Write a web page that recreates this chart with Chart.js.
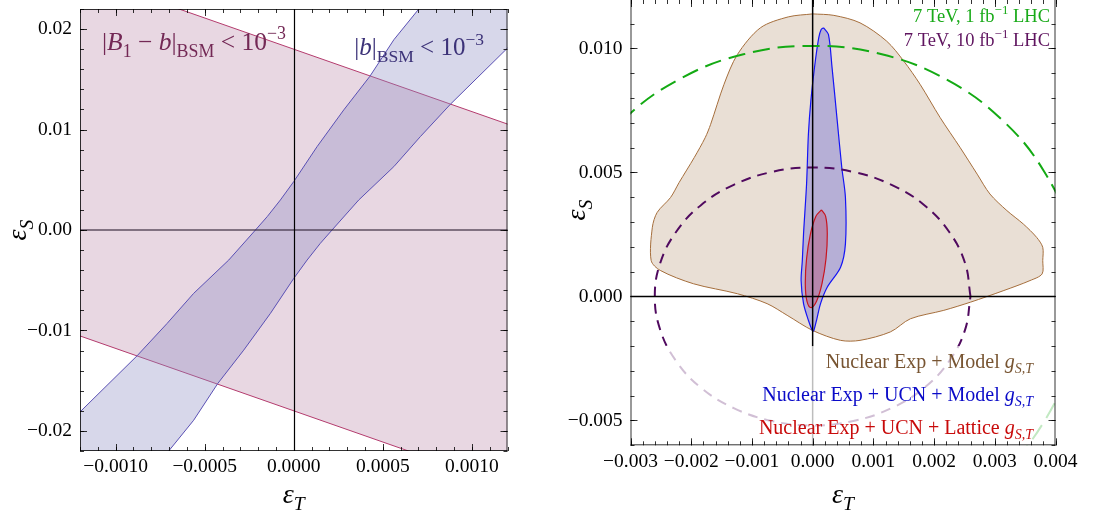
<!DOCTYPE html>
<html><head><meta charset="utf-8">
<script src="https://cdn.jsdelivr.net/npm/chart.js@4/dist/chart.umd.min.js"></script>
<style>
html,body{margin:0;padding:0;background:#fff;width:1109px;height:518px;overflow:hidden}
#c1{position:absolute;left:0;top:0}
#c2{position:absolute;left:545px;top:0}
</style></head><body>
<canvas id="c1" width="545" height="518"></canvas>
<canvas id="c2" width="564" height="518"></canvas>
<script>
// ---------------- LEFT PANEL DATA ----------------
const leftXTicks = [-0.001, -0.0005, 0, 0.0005, 0.001];
const leftXTickLabels = ["\u22120.0010", "\u22120.0005", "0.0000", "0.0005", "0.0010"];
const leftYTicks = [-0.02, -0.01, 0, 0.01, 0.02];
const leftYTickLabels = ["\u22120.02", "\u22120.01", "0.00", "0.01", "0.02"];
// |B1 - b| band: upper boundary line then lower boundary line
const b1BandUpper = [[-0.0016, 0.02794], [0.0016, 0.00806]];
const b1BandLower = [[0.0016, -0.02794], [-0.0016, -0.00806]];
// |b| band: curve A (upper-left edge) bottom->top, curve B (lower-right edge) top->bottom
const bBandA = [[-0.0016, -0.0251], [-0.0012, -0.01811], [-0.00088, -0.01253], [-0.000711, -0.0093],
  [-0.000562, -0.00631], [-0.000365, -0.00299], [-0.000215, 0], [-0.000149, 0.00133],
  [-0.000075, 0.00299], [0, 0.00482], [0.000131, 0.0083], [0.000281, 0.01196],
  [0.000427, 0.01529], [0.000562, 0.01894], [0.000702, 0.022], [0.00085, 0.0255]];
const bBandB = [[0.0016, 0.0251], [0.0012, 0.01811], [0.00088, 0.01253], [0.000711, 0.0093],
  [0.000562, 0.00631], [0.000365, 0.00299], [0.000215, 0], [0.000149, -0.00133],
  [0.000075, -0.00299], [0, -0.00482], [-0.000131, -0.0083], [-0.000281, -0.01196],
  [-0.000427, -0.01529], [-0.000562, -0.01894], [-0.000702, -0.022], [-0.00085, -0.0255]];

// ---------------- RIGHT PANEL DATA ----------------
const rightXTicks = [-0.003, -0.002, -0.001, 0, 0.001, 0.002, 0.003, 0.004];
const rightXTickLabels = ["\u22120.003", "\u22120.002", "\u22120.001", "0.000", "0.001", "0.002", "0.003", "0.004"];
const rightYTicks = [-0.005, 0, 0.005, 0.01];
const rightYTickLabels = ["\u22120.005", "0.000", "0.005", "0.010"];
const nuclearModel = [[0, 0.01139], [0.00035, 0.01133], [0.00078, 0.01103], [0.00122, 0.01029], [0.0015, 0.00949],
  [0.00177, 0.00855], [0.0021, 0.00721], [0.00243, 0.006], [0.00271, 0.00493], [0.00292, 0.00413],
  [0.0032, 0.00346], [0.00347, 0.00292], [0.00369, 0.00238], [0.00379, 0.00198], [0.00379, 0.00145],
  [0.00378, 0.00091], [0.00358, 0.00064], [0.00315, 0.00024], [0.0026, -0.00023], [0.00216, -0.00056],
  [0.00161, -0.0009], [0.00128, -0.00143], [0.00078, -0.00177], [0.00046, -0.00177], [0, -0.00137],
  [-0.00042, -0.00076], [-0.00075, -0.00029], [-0.00124, 0.00011], [-0.00196, 0.00051], [-0.00251, 0.00105],
  [-0.00266, 0.00145], [-0.00264, 0.00279], [-0.00256, 0.00339], [-0.00234, 0.00399], [-0.0022, 0.00459],
  [-0.00195, 0.0056], [-0.00177, 0.0064], [-0.00168, 0.00694], [-0.00146, 0.00855], [-0.00124, 0.00975],
  [-0.00086, 0.01083], [-0.0004, 0.01127], [0, 0.01139]];
const nuclearUCNModel = [[0.00018, 0.01083], [0.00026, 0.01056], [0.00032, 0.00922], [0.0004, 0.00721],
  [0.00048, 0.0052], [0.00054, 0.00399], [0.00054, 0.00212], [0.00046, 0.00118], [0.00024, 0.00037],
  [0.00013, -0.00029], [0.00007, -0.0009], [0.00002, -0.00137], [0, -0.0014], [-0.00007, -0.00096],
  [-0.00015, -0.00029], [-0.00019, 0.00064], [-0.00017, 0.00145], [-0.00015, 0.00252], [-0.0001, 0.00453],
  [-0.00007, 0.00654], [-0.00003, 0.00788], [0.00003, 0.00922], [0.0001, 0.01042], [0.00014, 0.01076],
  [0.00018, 0.01083]];
const nuclearUCNLattice = [[0.000145, 0.00349], [0.000214, 0.00323], [0.000241, 0.00251], [0.00022, 0.00152],
  [0.000156, 0.000535], [0.000066, -0.000186], [-0.000025, -0.00045], [-0.000094, -0.000186],
  [-0.000121, 0.000535], [-0.0001, 0.00152], [-0.000037, 0.00251], [0.000054, 0.00323], [0.000145, 0.00349]];
const lhc1fb = [[0.0044, 0], [0.00425, 0.00261], [0.00381, 0.00505], [0.00311, 0.00714], [0.0022, 0.00875],
  [0.00114, 0.00976], [0, 0.0101], [-0.00114, 0.00976], [-0.0022, 0.00875], [-0.00311, 0.00714],
  [-0.00381, 0.00505], [-0.00425, 0.00261], [-0.0044, 0], [-0.00425, -0.00261], [-0.00381, -0.00505],
  [-0.00311, -0.00714], [-0.0022, -0.00875], [-0.00114, -0.00976], [0, -0.0101], [0.00114, -0.00976],
  [0.0022, -0.00875], [0.00311, -0.00714], [0.00381, -0.00505], [0.00425, -0.00261], [0.0044, 0]];
const lhc10fb = [[0.0026, 0], [0.00251, 0.00135], [0.00225, 0.0026], [0.00184, 0.00368], [0.0013, 0.0045],
  [0.00067, 0.00502], [0, 0.0052], [-0.00067, 0.00502], [-0.0013, 0.0045], [-0.00184, 0.00368],
  [-0.00225, 0.0026], [-0.00251, 0.00135], [-0.0026, 0], [-0.00251, -0.00135], [-0.00225, -0.0026],
  [-0.00184, -0.00368], [-0.0013, -0.0045], [-0.00067, -0.00502], [0, -0.0052], [0.00067, -0.00502],
  [0.0013, -0.0045], [0.00184, -0.00368], [0.00225, -0.0026], [0.00251, -0.00135], [0.0026, 0]];
const legendShadeFrom = -0.002;

// ---------------- HELPERS ----------------
const SERIF = '"Liberation Serif", "Times New Roman", serif';
const pts = a => a.map(p => ({x: p[0], y: p[1]}));

function fontFor(kind, base) {
  const small = kind.indexOf('sub') >= 0 || kind.indexOf('sup') >= 0;
  const it = kind[0] === 'i' ? 'italic ' : '';
  return it + (small ? base * 0.7 : base) + 'px ' + SERIF;
}
function dyFor(kind, base) {
  if (kind.indexOf('sub') >= 0) return base * 0.26;
  if (kind.indexOf('sup') >= 0) return -base * 0.42;
  return 0;
}
function rich(ctx, parts, x, y, align, base, color) {
  ctx.save();
  ctx.fillStyle = color;
  ctx.textBaseline = 'alphabetic';
  ctx.textAlign = 'left';
  let total = 0; const w = [];
  for (const p of parts) { ctx.font = fontFor(p[1], base); const m = ctx.measureText(p[0]).width; w.push(m); total += m; }
  let cx = align === 'right' ? x - total : align === 'center' ? x - total / 2 : x;
  parts.forEach((p, i) => { ctx.font = fontFor(p[1], base); ctx.fillText(p[0], cx, y + dyFor(p[1], base)); cx += w[i]; });
  ctx.restore();
}

function frameAndTicks(chart, o) {
  const ctx = chart.ctx, a = chart.chartArea, xs = chart.scales.x, ys = chart.scales.y;
  ctx.save();
  ctx.strokeStyle = 'rgba(0,0,0,0.8)';
  ctx.lineWidth = 1;
  ctx.beginPath();
  ctx.moveTo(a.left + 0.5, a.top); ctx.lineTo(a.left + 0.5, a.bottom);
  ctx.moveTo(a.left, a.bottom - 0.5); ctx.lineTo(a.right, a.bottom - 0.5);
  ctx.moveTo(a.right - 0.5, a.top); ctx.lineTo(a.right - 0.5, a.bottom);
  if (o.topLine) { ctx.moveTo(a.left, a.top + 0.5); ctx.lineTo(a.right, a.top + 0.5); }
  ctx.stroke();
  const MAJ = 7, MIN = 4;
  const tick = (len, vx, vy) => {
    if (vx !== null) {
      const px = Math.round(xs.getPixelForValue(vx)) + 0.5;
      ctx.moveTo(px, a.bottom); ctx.lineTo(px, a.bottom - len);
      ctx.moveTo(px, a.top); ctx.lineTo(px, a.top + len);
    } else {
      const py = Math.round(ys.getPixelForValue(vy)) + 0.5;
      ctx.moveTo(a.left, py); ctx.lineTo(a.left + len, py);
      ctx.moveTo(a.right, py); ctx.lineTo(a.right - len, py);
    }
  };
  ctx.beginPath();
  for (let k = Math.ceil(xs.min / o.xMinor - 1e-6); k * o.xMinor <= xs.max + 1e-12; k++) tick(MIN, k * o.xMinor, null);
  for (let k = Math.ceil(ys.min / o.yMinor - 1e-6); k * o.yMinor <= ys.max + 1e-12; k++) tick(MIN, null, k * o.yMinor);
  o.xTicks.forEach(v => tick(MAJ, v, null));
  o.yTicks.forEach(v => tick(MAJ, null, v));
  ctx.stroke();
  ctx.fillStyle = '#000';
  ctx.font = o.tickFont + 'px ' + SERIF;
  ctx.textAlign = 'center'; ctx.textBaseline = 'middle';
  o.xTicks.forEach((v, i) => ctx.fillText(o.xLabels[i], xs.getPixelForValue(v), a.bottom + o.xLabelGap));
  ctx.textAlign = 'right';
  o.yTicks.forEach((v, i) => ctx.fillText(o.yLabels[i], a.left - o.yLabelGap, ys.getPixelForValue(v)));
  // axis titles
  rich(ctx, [['\u03B5', 'i'], ['T', 'isub']], (a.left + a.right) / 2 + o.xTitleDx, o.xTitleY, 'center', 28, '#000');
  ctx.translate(o.yTitleX, o.yTitleY);
  ctx.rotate(-Math.PI / 2);
  rich(ctx, [['\u03B5', 'i'], ['S', 'isub']], 0, 8, 'center', 28, '#000');
  ctx.restore();
}

function baseOptions(xmin, xmax, ymin, ymax, padding) {
  return {
    responsive: false, animation: false, devicePixelRatio: 1,
    layout: {padding: padding},
    plugins: {legend: {display: false}, tooltip: {enabled: false}},
    elements: {point: {radius: 0, hoverRadius: 0}, line: {capBezierPoints: false}},
    scales: {
      x: {type: 'linear', min: xmin, max: xmax, display: false},
      y: {type: 'linear', min: ymin, max: ymax, display: false}
    }
  };
}

// ---------------- LEFT CHART ----------------
new Chart(document.getElementById('c1'), {
  type: 'line',
  data: {datasets: [
    {label: '|b|', data: pts(bBandA.concat(bBandB)).concat([{x: bBandA[0][0], y: bBandA[0][1]}]),
     fill: 'shape', backgroundColor: 'rgba(140,140,196,0.35)', borderColor: 'rgb(90,80,180)', borderWidth: 1,
     tension: 0, clip: 0, order: 1},
    {label: '|B1-b|', data: pts(b1BandUpper.concat(b1BandLower)).concat([{x: b1BandUpper[0][0], y: b1BandUpper[0][1]}]),
     fill: 'shape', backgroundColor: 'rgba(189,140,172,0.35)', borderColor: 'rgb(180,60,110)', borderWidth: 1,
     tension: 0, clip: 0, order: 2}
  ]},
  options: baseOptions(-0.0012, 0.0012, -0.022, 0.022, {left: 80, top: 9, right: 37.5, bottom: 67}),
  plugins: [{
    id: 'leftDeco',
    afterDatasetsDraw(chart) {
      const ctx = chart.ctx, a = chart.chartArea, xs = chart.scales.x, ys = chart.scales.y;
      ctx.save();
      ctx.beginPath();
      const y0 = ys.getPixelForValue(0);
      ctx.strokeStyle = 'rgba(50,35,55,0.75)'; ctx.lineWidth = 1.6;
      ctx.moveTo(a.left, y0); ctx.lineTo(a.right, y0); ctx.stroke();
      ctx.beginPath();
      const x0 = Math.round(xs.getPixelForValue(0)) + 0.5;
      ctx.strokeStyle = '#000'; ctx.lineWidth = 1.2;
      ctx.moveTo(x0, a.top); ctx.lineTo(x0, a.bottom); ctx.stroke();
      ctx.restore();
      frameAndTicks(chart, {xTicks: leftXTicks, xLabels: leftXTickLabels, yTicks: leftYTicks, yLabels: leftYTickLabels,
        xMinor: 0.0001, yMinor: 0.002, tickFont: 19.5, xLabelGap: 16, yLabelGap: 8, topLine: true,
        xTitleDx: 0, xTitleY: 503, yTitleX: 18, yTitleY: 230});
      rich(ctx, [['|', 'n'], ['B', 'i'], ['1', 'sub'], [' \u2212 ', 'n'], ['b', 'i'], ['|', 'n'], ['BSM', 'sub'], [' < 10', 'n'], ['\u22123', 'sup']],
        102, 50, 'left', 25.5, 'rgb(115,40,85)');
      rich(ctx, [['|', 'n'], ['b', 'i'], ['|', 'n'], ['BSM', 'sub'], [' < 10', 'n'], ['\u22123', 'sup']],
        484, 55, 'right', 25, 'rgb(60,50,120)');
    }
  }]
});

// ---------------- RIGHT CHART ----------------
new Chart(document.getElementById('c2'), {
  type: 'line',
  data: {datasets: [
    {label: '7 TeV, 10 fb-1 LHC', data: pts(lhc10fb), fill: false, borderColor: 'rgb(80,10,95)', borderWidth: 2,
     borderDash: [10, 7], tension: 0.4, clip: 0, order: 1},
    {label: '7 TeV, 1 fb-1 LHC', data: pts(lhc1fb), fill: false, borderColor: 'rgb(20,170,20)', borderWidth: 2,
     borderDash: [17, 8], tension: 0.4, clip: 0, order: 2},
    {label: 'Nuclear Exp + UCN + Lattice', data: pts(nuclearUCNLattice), fill: 'shape', backgroundColor: 'rgba(185,50,85,0.32)',
     borderColor: 'rgb(200,20,30)', borderWidth: 1.2, tension: 0.4, clip: 0, order: 3},
    {label: 'Nuclear Exp + UCN + Model', data: pts(nuclearUCNModel), fill: 'shape', backgroundColor: 'rgba(150,145,215,0.62)',
     borderColor: 'rgb(20,20,245)', borderWidth: 1.2, tension: 0.3, clip: 0, order: 4},
    {label: 'Nuclear Exp + Model', data: pts(nuclearModel), fill: 'shape', backgroundColor: 'rgb(233,223,213)',
     borderColor: 'rgb(165,110,60)', borderWidth: 1, tension: 0.3, clip: 0, order: 5}
  ]},
  options: baseOptions(-0.003, 0.004, -0.006, 0.01195, {left: 85.5, top: 0, right: 53.5, bottom: 72.7}),
  plugins: [{
    id: 'rightDeco',
    afterDatasetsDraw(chart) {
      const ctx = chart.ctx, a = chart.chartArea, xs = chart.scales.x, ys = chart.scales.y;
      ctx.save();
      ctx.strokeStyle = '#000'; ctx.lineWidth = 1.5;
      const x0 = xs.getPixelForValue(0), y0 = ys.getPixelForValue(0);
      ctx.beginPath(); ctx.moveTo(x0, a.top); ctx.lineTo(x0, a.bottom); ctx.stroke();
      ctx.beginPath(); ctx.moveTo(a.left, y0); ctx.lineTo(a.right, y0); ctx.stroke();
      const ys0 = ys.getPixelForValue(legendShadeFrom);
      ctx.fillStyle = 'rgba(255,255,255,0.74)';
      ctx.fillRect(a.left, ys0, a.right - a.left, a.bottom - ys0);
      ctx.restore();
      frameAndTicks(chart, {xTicks: rightXTicks, xLabels: rightXTickLabels, yTicks: rightYTicks, yLabels: rightYTickLabels,
        xMinor: 0.0002, yMinor: 0.001, tickFont: 19.5, xLabelGap: 17, yLabelGap: 8, topLine: false,
        xTitleDx: 0, xTitleY: 503, yTitleX: 577 - 545, yTitleY: 210});
      rich(ctx, [['7 TeV, 1 fb', 'n'], ['\u22121', 'sup'], [' LHC', 'n']], 1050 - 545, 22, 'right', 18.5, 'rgb(25,170,25)');
      rich(ctx, [['7 TeV, 10 fb', 'n'], ['\u22121', 'sup'], [' LHC', 'n']], 1050 - 545, 46, 'right', 18.5, 'rgb(95,20,95)');
      rich(ctx, [['Nuclear Exp + Model ', 'n'], ['g', 'i'], ['S,T', 'isub']], 1033 - 545, 368, 'right', 20, 'rgb(120,85,50)');
      rich(ctx, [['Nuclear Exp + UCN + Model ', 'n'], ['g', 'i'], ['S,T', 'isub']], 1033 - 545, 401, 'right', 20, 'rgb(10,10,200)');
      rich(ctx, [['Nuclear Exp + UCN + Lattice ', 'n'], ['g', 'i'], ['S,T', 'isub']], 1033 - 545, 434, 'right', 20, 'rgb(200,10,10)');
    }
  }]
});
</script>
</body></html>
